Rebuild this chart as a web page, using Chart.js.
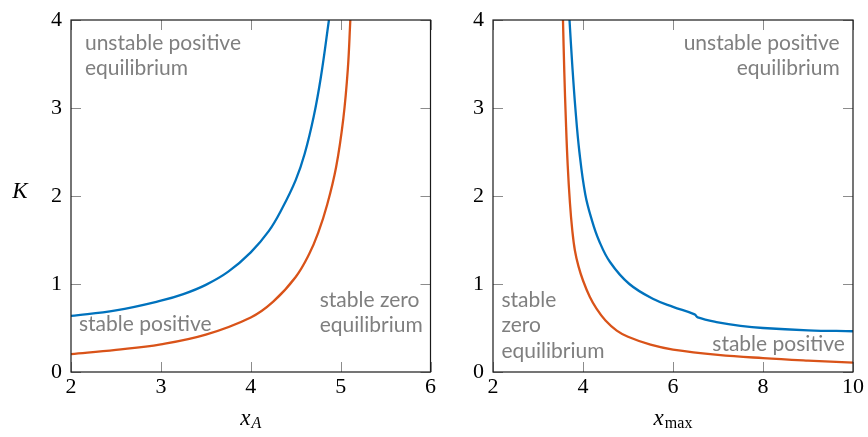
<!DOCTYPE html>
<html>
<head>
<meta charset="utf-8">
<script src="https://cdn.jsdelivr.net/npm/chart.js@4.4.1/dist/chart.umd.min.js"></script>
<style>
  html, body { margin: 0; padding: 0; background: #fff; }
  body { width: 868px; height: 437px; position: relative; overflow: hidden; }
  .panel { position: absolute; top: 0; height: 437px; }
  #leftPanel { left: 0; width: 440px; }
  #rightPanel { left: 440px; width: 428px; }
</style>
</head>
<body>
<div class="panel" id="leftPanel"><canvas id="chartA"></canvas></div>
<div class="panel" id="rightPanel"><canvas id="chartB"></canvas></div>
<script>
// Left panel: K against x_A
const xA_upper = [2.0, 2.5, 3.0, 3.25, 3.5, 3.75, 4.0, 4.2, 4.35, 4.5, 4.6, 4.7, 4.78, 4.87];
const K_upper  = [0.637, 0.70, 0.81, 0.885, 0.99, 1.14, 1.36, 1.60, 1.86, 2.18, 2.48, 2.90, 3.35, 4.0];
const xA_lower = [2.0, 2.5, 3.0, 3.5, 4.0, 4.25, 4.5, 4.65, 4.75, 4.85, 4.95, 5.03, 5.08, 5.108];
const K_lower  = [0.204, 0.252, 0.315, 0.425, 0.62, 0.80, 1.08, 1.34, 1.58, 1.90, 2.33, 2.88, 3.44, 4.0];

// Right panel: K against x_max
const xMax_upper = [3.70, 3.76, 3.83, 3.92, 4.05, 4.20, 4.35, 4.60, 5.03, 5.60, 6.0, 6.48, 6.55, 7.0, 7.5, 8.0, 9.0, 10.0];
const K2_upper   = [4.0, 3.5, 3.0, 2.5, 2.02, 1.72, 1.50, 1.25, 1.0, 0.82, 0.74, 0.655, 0.62, 0.565, 0.525, 0.50, 0.474, 0.463];
const xMax_lower = [3.555, 3.585, 3.62, 3.66, 3.71, 3.76, 3.82, 3.90, 4.0, 4.15, 4.3, 4.5, 4.75, 5.0, 5.5, 6.0, 7.0, 8.0, 9.0, 10.0];
const K2_lower   = [4.0, 3.4, 2.85, 2.35, 1.92, 1.62, 1.38, 1.20, 1.04, 0.855, 0.72, 0.585, 0.47, 0.40, 0.31, 0.255, 0.195, 0.158, 0.13, 0.107];

const xTicksA = [2, 3, 4, 5, 6];
const xTicksB = [2, 4, 6, 8, 10];
const yTicks = [0, 1, 2, 3, 4];

const BLUE = '#0072bd';
const RED = '#d95319';
const GREY_TEXT = '#7f7f7f';
const SERIF = '"Liberation Serif", "DejaVu Serif", serif';
const SANS = 'Lato, "Open Sans", sans-serif';

function toPoints(xs, ys) {
    return xs.map((x, i) => ({ x: x, y: ys[i] }));
}

function lineSet(xs, ys, color) {
    return {
        data: toPoints(xs, ys),
        borderColor: color,
        borderWidth: 2.3,
        pointRadius: 0,
        fill: false,
        tension: 0.4
    };
}

// frame, inward ticks, axis labels and region notes
const decorPlugin = {
    id: 'decor',
    afterDraw(chart, args, opts) {
        const ctx = chart.ctx;
        const a = chart.chartArea;
        const xs = chart.scales.x, ys = chart.scales.y;
        ctx.save();

        // tick marks pointing inward
        ctx.strokeStyle = '#8c8c8c';
        ctx.lineWidth = 1;
        ctx.beginPath();
        opts.xTicks.forEach(v => {
            const px = Math.round(xs.getPixelForValue(v)) + 0.5;
            ctx.moveTo(px, a.bottom); ctx.lineTo(px, a.bottom - 10);
            ctx.moveTo(px, a.top); ctx.lineTo(px, a.top + 10);
        });
        yTicks.forEach(v => {
            const py = Math.round(ys.getPixelForValue(v)) + 0.5;
            ctx.moveTo(a.left, py); ctx.lineTo(a.left + 10, py);
            ctx.moveTo(a.right, py); ctx.lineTo(a.right - 10, py);
        });
        ctx.stroke();

        // frame
        ctx.strokeStyle = '#1a1a1a';
        ctx.lineWidth = 1.2;
        ctx.strokeRect(a.left, a.top, a.right - a.left, a.bottom - a.top);

        // notes
        ctx.fillStyle = GREY_TEXT;
        ctx.font = '21px ' + SANS;
        ctx.textBaseline = 'alphabetic';
        opts.notes.forEach(n => {
            ctx.textAlign = n.align;
            const px = xs.getPixelForValue(n.x);
            const py = ys.getPixelForValue(n.y);
            n.lines.forEach((t, i) => ctx.fillText(t, px, py + i * 25.5));
        });

        // x axis label with subscript
        const cx = (a.left + a.right) / 2;
        const base = a.bottom + 53;
        ctx.fillStyle = '#000';
        ctx.textAlign = 'left';
        ctx.font = 'italic 23px ' + SERIF;
        const wMain = ctx.measureText('x').width;
        ctx.font = (opts.subItalic ? 'italic ' : '') + '16px ' + SERIF;
        const wSub = ctx.measureText(opts.sub).width;
        const x0 = cx - (wMain + 1 + wSub) / 2;
        ctx.font = 'italic 23px ' + SERIF;
        ctx.fillText('x', x0, base);
        ctx.font = (opts.subItalic ? 'italic ' : '') + '16px ' + SERIF;
        ctx.fillText(opts.sub, x0 + wMain + 1, base + 3);

        // y axis label, upright as in the figure
        if (opts.yLabel) {
            ctx.font = 'italic 23px ' + SERIF;
            ctx.textAlign = 'center';
            ctx.fillText('K', a.left - 51, ys.getPixelForValue(2) + 2);
        }
        ctx.restore();
    }
};

function makeOptions(xMin, xMax, step, yWidth, padRight, decor) {
    return {
        responsive: true,
        maintainAspectRatio: false,
        animation: false,
        layout: { padding: { top: 12, right: padRight, bottom: 0, left: 0 } },
        scales: {
            x: {
                type: 'linear',
                min: xMin,
                max: xMax,
                grid: { display: false, drawTicks: false },
                border: { display: false },
                ticks: {
                    stepSize: step,
                    padding: 4,
                    color: '#000',
                    font: { family: SERIF, size: 22, lineHeight: 1 }
                },
                afterFit(scale) { scale.height = 65; }
            },
            y: {
                min: 0,
                max: 4,
                grid: { display: false, drawTicks: false },
                border: { display: false },
                ticks: {
                    stepSize: 1,
                    padding: 9,
                    color: '#000',
                    font: { family: SERIF, size: 22, lineHeight: 1 }
                },
                afterFit(scale) { scale.width = yWidth; }
            }
        },
        plugins: {
            legend: { display: false },
            tooltip: { enabled: false },
            decor: decor
        }
    };
}

new Chart(document.getElementById('chartA').getContext('2d'), {
    type: 'line',
    data: {
        datasets: [
            lineSet(xA_upper, K_upper, BLUE),
            lineSet(xA_lower, K_lower, RED)
        ]
    },
    options: makeOptions(2, 6, 1, 71, 8, {
        xTicks: xTicksA,
        sub: 'A',
        subItalic: true,
        yLabel: true,
        notes: [
            { lines: ['unstable positive', 'equilibrium'], x: 2.155, y: 3.663, align: 'left' },
            { lines: ['stable positive'], x: 2.089, y: 0.471, align: 'left' },
            { lines: ['stable zero', 'equilibrium'], x: 4.767, y: 0.741, align: 'left' }
        ]
    }),
    plugins: [decorPlugin]
});

new Chart(document.getElementById('chartB').getContext('2d'), {
    type: 'line',
    data: {
        datasets: [
            lineSet(xMax_upper, K2_upper, BLUE),
            lineSet(xMax_lower, K2_lower, RED)
        ]
    },
    options: makeOptions(2, 10, 2, 53, 14, {
        xTicks: xTicksB,
        sub: 'max',
        subItalic: false,
        yLabel: false,
        notes: [
            { lines: ['unstable positive', 'equilibrium'], x: 9.704, y: 3.663, align: 'right' },
            { lines: ['stable', 'zero', 'equilibrium'], x: 2.187, y: 0.741, align: 'left' },
            { lines: ['stable positive'], x: 9.82, y: 0.241, align: 'right' }
        ]
    }),
    plugins: [decorPlugin]
});
</script>
</body>
</html>
